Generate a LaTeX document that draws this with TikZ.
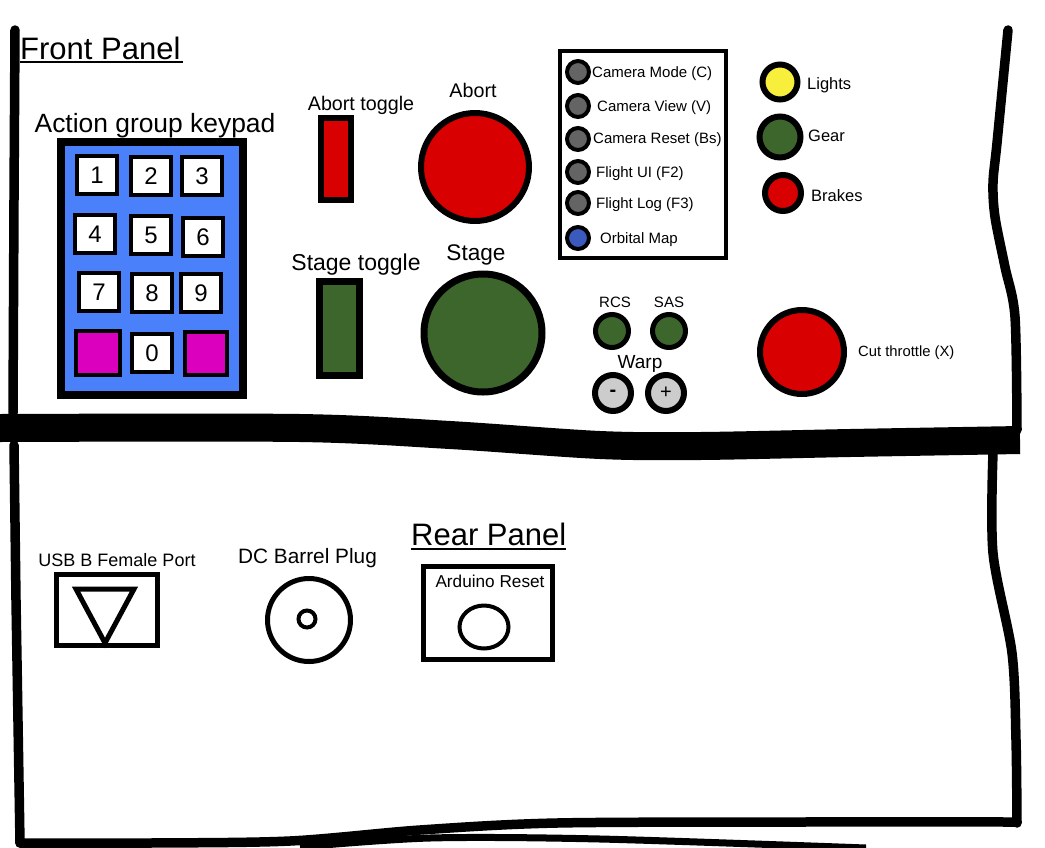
\documentclass[tikz,border=0pt]{standalone}
\usepackage{fontspec}
\setmainfont{Liberation Sans}
\usepackage{tikz}
\usetikzlibrary{shapes.geometric}

\definecolor{padblue}{RGB}{74,128,250}
\definecolor{btnred}{RGB}{216,0,0}
\definecolor{btngreen}{RGB}{61,102,45}
\definecolor{btngray}{RGB}{100,100,100}
\definecolor{mapblue}{RGB}{58,90,190}
\definecolor{lampyellow}{RGB}{248,238,60}
\definecolor{keymag}{RGB}{218,0,190}
\definecolor{warpgray}{RGB}{204,204,204}

\newcommand{\pxfont}[1]{\fontsize{#1}{#1}\selectfont}

\begin{document}
\begin{tikzpicture}[
        x=1pt,
        y=-1pt,
        edge/.style={line width=9.5, line cap=round, line join=round},
        lbl/.style={inner sep=0, anchor=base},
        key/.style={draw, line width=4, fill=white, inner sep=0, minimum width=40, minimum height=38, font=\pxfont{24}},
        bigbtn/.style={circle, draw, line width=6, inner sep=0},
        smallbtn/.style={circle, draw, line width=4, inner sep=0, minimum size=22},
        toggle/.style={draw, inner sep=0},
        plate/.style={draw, line width=5, inner sep=0}
    ]
        \useasboundingbox (0,0) rectangle (1045,847);

        % hand drawn panel outlines
        \draw[edge] (15,30) -- (14,200) -- (13,413);
        \draw[edge] plot[smooth] coordinates {(1008,30) (997,143) (993,183) (995,217) (1005,267) (1015,317) (1017,430)};
        \draw[line width=28] plot[smooth] coordinates {(0,428) (300,428) (450,435) (600,445) (700,446) (850,443) (1020,440)};
        \draw[edge] (14,445) -- (16,600) -- (20,843);
        \draw[edge] plot[smooth] coordinates {(993,453) (993,553) (1012,653) (1016,740) (1017,823)};
        \draw[edge] plot[smooth] coordinates {(20,843) (150,843) (290,841) (420,830) (557,823) (800,822) (1017,822)};
        \draw[line width=7] plot[smooth] coordinates {(300,847) (430,838) (600,839) (866,848)};

        % front panel
        \node[lbl, anchor=base west, font=\pxfont{31}] (fronttitle) at (20,59) {Front Panel};
        \draw[line width=2] (fronttitle.base west) ++(0,3) -- ++(163,0);

        \node[lbl, font=\pxfont{26.4}] (padlabel) at (155,132) {Action group keypad};
        \node[draw, line width=8, fill=padblue, minimum width=182, minimum height=253, inner sep=0] (keypad) at (152,268.5) {};
        \foreach \lab/\cx/\cy in {1/97/175, 2/151/176, 3/202/176, 4/95/234, 5/151/235, 6/203/237, 7/99/292, 8/152/293, 9/201/293, 0/152/353} {
            \node[key] (k\lab) at (\cx,\cy) {\lab};
        }
        \node[key, fill=keymag, minimum width=44, minimum height=44] (kleft) at (98,353) {};
        \node[key, fill=keymag, minimum width=42, minimum height=43] (kright) at (206,353) {};

        \node[lbl, font=\pxfont{19.7}] (aborttlabel) at (361,110) {Abort toggle};
        \node[toggle, line width=6, fill=btnred, minimum width=30, minimum height=82] (aborttoggle) at (336,159) {};
        \node[lbl, font=\pxfont{19.7}] (abortlabel) at (473,97) {Abort};
        \node[bigbtn, fill=btnred, minimum size=108] (abort) at (475,167) {};

        \node[lbl, font=\pxfont{23}] (stagetlabel) at (356,270) {Stage toggle};
        \node[toggle, line width=7, fill=btngreen, minimum width=40, minimum height=94] (stagetoggle) at (339.5,328.5) {};
        \node[lbl, font=\pxfont{22.6}] (stagelabel) at (476,260) {Stage};
        \node[bigbtn, line width=7, fill=btngreen, minimum size=118] (stage) at (483,333) {};

        \node[draw, line width=4, minimum width=166, minimum height=207, inner sep=0] (cambox) at (643,154.5) {};
        \foreach \i/\cy/\by/\tx/\col/\lab in {1/72/77/592/btngray/Camera Mode (C), 2/106/111/597/btngray/Camera View (V), 3/139/143/593/btngray/Camera Reset (Bs), 4/172/177/596/btngray/Flight UI (F2), 5/203/208/596/btngray/Flight Log (F3), 6/238/243/600/mapblue/Orbital Map} {
            \node[smallbtn, fill=\col] (cam\i) at (578,\cy) {};
            \node[lbl, anchor=base west, font=\pxfont{15}] (caml\i) at (\tx,\by) {\lab};
        }

        \node[bigbtn, fill=lampyellow, minimum size=35] (lights) at (780,82) {};
        \node[lbl, anchor=base west, font=\pxfont{16.5}] (lightslabel) at (807,89) {Lights};
        \node[bigbtn, fill=btngreen, minimum size=41] (gear) at (780,137) {};
        \node[lbl, anchor=base west, font=\pxfont{16.5}] (gearlabel) at (808,141) {Gear};
        \node[bigbtn, fill=btnred, minimum size=36] (brakes) at (783,193) {};
        \node[lbl, anchor=base west, font=\pxfont{16.5}] (brakeslabel) at (811,201) {Brakes};

        \node[lbl, font=\pxfont{15}] (rcslabel) at (615,307) {RCS};
        \node[bigbtn, line width=5, fill=btngreen, minimum size=33] (rcs) at (612,331) {};
        \node[lbl, font=\pxfont{15}] (saslabel) at (669,307) {SAS};
        \node[bigbtn, line width=5, fill=btngreen, minimum size=33] (sas) at (669,331) {};

        \node[lbl, font=\pxfont{19}] (warplabel) at (640,368) {Warp};
        \node[bigbtn, fill=warpgray, minimum size=36, font=\pxfont{20}\bfseries] (warpdown) at (613,393) {-};
        \node[bigbtn, fill=warpgray, minimum size=36, font=\pxfont{20}] (warpup) at (666,393) {+};

        \node[bigbtn, fill=btnred, minimum size=84] (cut) at (802,352) {};
        \node[lbl, anchor=base west, font=\pxfont{14.8}] (cutlabel) at (858,356) {Cut throttle (X)};

        % rear panel
        \node[lbl, anchor=base west, font=\pxfont{31}] (reartitle) at (411,545) {Rear Panel};
        \draw[line width=2] (reartitle.base west) ++(0,4) -- ++(155,0);

        \node[lbl, font=\pxfont{18}] (usblabel) at (117,566) {USB B Female Port};
        \node[plate, minimum width=101, minimum height=71] (usb) at (107,610) {};
        \draw[line width=5, line join=miter] (76,589) -- (134,589) -- (105,643) -- cycle;

        \node[lbl, font=\pxfont{20.8}] (dclabel) at (307.5,563) {DC Barrel Plug};
        \node[circle, plate, minimum size=83] (barrel) at (309,620) {};
        \node[circle, draw, line width=4, inner sep=0, minimum size=17] (pin) at (307,619) {};

        \node[plate, minimum width=129, minimum height=93] (resetbox) at (488,613) {};
        \node[lbl, font=\pxfont{17.2}] (resetlabel) at (490,587) {Arduino Reset};
        \node[ellipse, draw, line width=4, inner sep=0, minimum width=49, minimum height=43] (reset) at (484,627) {};
    \end{tikzpicture}
\end{document}
